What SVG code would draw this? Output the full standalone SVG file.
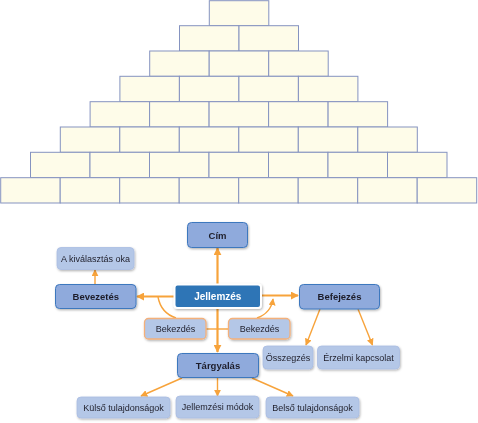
<svg xmlns="http://www.w3.org/2000/svg" width="478" height="423" viewBox="0 0 478 423">
<defs>
<style>
.brick{fill:#FEFCE9;stroke:#8593C0;stroke-width:1}
.l1{fill:#8FAADC;stroke:#3E78BE;stroke-width:1}
.l2{fill:#B4C7E7;stroke:#A9BDE2;stroke-width:0.8}
.bk{fill:#B4C7E7;stroke:#F4B07A;stroke-width:1.3}
.main{fill:#2E75B6;stroke:#FFFFFF;stroke-width:2}
.t{font-family:"Liberation Sans",Arial,sans-serif;font-size:9px;fill:#1E1E2A;text-anchor:middle}
.tb{font-family:"Liberation Sans",Arial,sans-serif;font-size:9.5px;font-weight:bold;fill:#1E1E2A;text-anchor:middle}
.tw{font-family:"Liberation Sans",Arial,sans-serif;font-size:10px;font-weight:bold;fill:#FFFFFF;text-anchor:middle}
.c{fill:none;stroke:#F7A33B;stroke-width:1.4}
.cm{fill:none;stroke:#F7A33B;stroke-width:2.2}
</style>
<marker id="ah" viewBox="0 0 10 10" refX="9" refY="5" markerWidth="7" markerHeight="7" markerUnits="userSpaceOnUse" orient="auto">
<path d="M0,0 L10,5 L0,10 Z" fill="#F7A33B"/>
</marker>
<marker id="ahm" viewBox="0 0 10 10" refX="9" refY="5" markerWidth="8" markerHeight="8" markerUnits="userSpaceOnUse" orient="auto">
<path d="M0,0 L10,5 L0,10 Z" fill="#F7A33B"/>
</marker>
<filter id="sh" x="-20%" y="-30%" width="140%" height="160%">
<feDropShadow dx="0.8" dy="1.2" stdDeviation="1" flood-color="#000" flood-opacity="0.3"/>
</filter>
</defs>

<g id="pyramid">
<rect class="brick" x="209.3" y="0.7" width="59.5" height="25"/>
<rect class="brick" x="179.5" y="25.7" width="59.5" height="25.3"/>
<rect class="brick" x="239" y="25.7" width="59.5" height="25.3"/>
<rect class="brick" x="149.7" y="51" width="59.5" height="25.3"/>
<rect class="brick" x="209.2" y="51" width="59.5" height="25.3"/>
<rect class="brick" x="268.7" y="51" width="59.5" height="25.3"/>
<rect class="brick" x="119.9" y="76.3" width="59.5" height="25.3"/>
<rect class="brick" x="179.4" y="76.3" width="59.5" height="25.3"/>
<rect class="brick" x="238.9" y="76.3" width="59.5" height="25.3"/>
<rect class="brick" x="298.4" y="76.3" width="59.5" height="25.3"/>
<rect class="brick" x="90.1" y="101.7" width="59.5" height="25.3"/>
<rect class="brick" x="149.6" y="101.7" width="59.5" height="25.3"/>
<rect class="brick" x="209.1" y="101.7" width="59.5" height="25.3"/>
<rect class="brick" x="268.6" y="101.7" width="59.5" height="25.3"/>
<rect class="brick" x="328.1" y="101.7" width="59.5" height="25.3"/>
<rect class="brick" x="60.3" y="127" width="59.5" height="25.3"/>
<rect class="brick" x="119.8" y="127" width="59.5" height="25.3"/>
<rect class="brick" x="179.3" y="127" width="59.5" height="25.3"/>
<rect class="brick" x="238.8" y="127" width="59.5" height="25.3"/>
<rect class="brick" x="298.3" y="127" width="59.5" height="25.3"/>
<rect class="brick" x="357.8" y="127" width="59.5" height="25.3"/>
<rect class="brick" x="30.5" y="152.3" width="59.5" height="25.3"/>
<rect class="brick" x="90" y="152.3" width="59.5" height="25.3"/>
<rect class="brick" x="149.5" y="152.3" width="59.5" height="25.3"/>
<rect class="brick" x="209" y="152.3" width="59.5" height="25.3"/>
<rect class="brick" x="268.5" y="152.3" width="59.5" height="25.3"/>
<rect class="brick" x="328" y="152.3" width="59.5" height="25.3"/>
<rect class="brick" x="387.5" y="152.3" width="59.5" height="25.3"/>
<rect class="brick" x="0.7" y="177.7" width="59.5" height="25.3"/>
<rect class="brick" x="60.2" y="177.7" width="59.5" height="25.3"/>
<rect class="brick" x="119.7" y="177.7" width="59.5" height="25.3"/>
<rect class="brick" x="179.2" y="177.7" width="59.5" height="25.3"/>
<rect class="brick" x="238.7" y="177.7" width="59.5" height="25.3"/>
<rect class="brick" x="298.2" y="177.7" width="59.5" height="25.3"/>
<rect class="brick" x="357.7" y="177.7" width="59.5" height="25.3"/>
<rect class="brick" x="417.2" y="177.7" width="59.5" height="25.3"/>
</g>

<g id="connectors">
<line class="cm" x1="217.5" y1="284" x2="217.5" y2="248" marker-end="url(#ahm)"/>
<line class="cm" x1="174" y1="296.5" x2="137" y2="296.5" marker-end="url(#ahm)"/>
<line class="cm" x1="261" y1="295.5" x2="298" y2="295.5" marker-end="url(#ahm)"/>
<line class="cm" x1="217.5" y1="308" x2="217.5" y2="352" marker-end="url(#ahm)"/>
<line class="c" x1="95" y1="284" x2="95" y2="270" marker-end="url(#ah)"/>
<line class="c" x1="320" y1="309" x2="306" y2="345" marker-end="url(#ah)"/>
<line class="c" x1="358" y1="309" x2="372.5" y2="345" marker-end="url(#ah)"/>
<line class="c" x1="182" y1="378" x2="141" y2="396" marker-end="url(#ah)"/>
<line class="c" x1="217.5" y1="378" x2="217.5" y2="396" marker-end="url(#ah)"/>
<line class="c" x1="252" y1="378" x2="293" y2="396" marker-end="url(#ah)"/>
<line class="c" x1="206" y1="329" x2="228" y2="329"/>
<path class="c" d="M158,297 Q161,313 176,318"/>
<path class="c" d="M257,318 Q271,313 273,299" marker-end="url(#ah)"/>
</g>

<g id="cim" filter="url(#sh)">
<rect class="l1" x="187.5" y="222.5" width="60" height="25" rx="4"/>
<text class="tb" x="217.5" y="238.5">Cím</text>
</g>
<g id="jellemzes" filter="url(#sh)">
<rect class="main" x="174.5" y="284.5" width="86.5" height="23.5" rx="3"/>
<text class="tw" x="217.8" y="300">Jellemzés</text>
</g>
<g id="bevezetes" filter="url(#sh)">
<rect class="l1" x="55.5" y="284.5" width="80.5" height="24" rx="4"/>
<text class="tb" x="95.8" y="300">Bevezetés</text>
</g>
<g id="kivalasztas" filter="url(#sh)">
<rect class="l2" x="57" y="247.5" width="77" height="22" rx="4"/>
<text class="t" x="95.5" y="261.5">A kiválasztás oka</text>
</g>
<g id="befejezes" filter="url(#sh)">
<rect class="l1" x="299.5" y="284.5" width="80" height="24.5" rx="4"/>
<text class="tb" x="339.5" y="300">Befejezés</text>
</g>
<g id="osszegzes" filter="url(#sh)">
<rect class="l2" x="263" y="346" width="50" height="23" rx="4"/>
<text class="t" x="288" y="360.8">Összegzés</text>
</g>
<g id="erzelmi" filter="url(#sh)">
<rect class="l2" x="317.5" y="346" width="82" height="23" rx="4"/>
<text class="t" x="358.5" y="360.8">Érzelmi kapcsolat</text>
</g>
<g id="bekezdes-bal" filter="url(#sh)">
<rect class="bk" x="144.5" y="318.5" width="61.5" height="20.5" rx="4"/>
<text class="t" x="175.5" y="332">Bekezdés</text>
</g>
<g id="bekezdes-jobb" filter="url(#sh)">
<rect class="bk" x="228.5" y="318.5" width="61.5" height="20.5" rx="4"/>
<text class="t" x="259.5" y="332">Bekezdés</text>
</g>
<g id="targyalas" filter="url(#sh)">
<rect class="l1" x="177.5" y="353.5" width="81" height="24" rx="4"/>
<text class="tb" x="218" y="369">Tárgyalás</text>
</g>
<g id="kulso" filter="url(#sh)">
<rect class="l2" x="77" y="397" width="93" height="21" rx="4"/>
<text class="t" x="123.5" y="410.8">Külső tulajdonságok</text>
</g>
<g id="modok" filter="url(#sh)">
<rect class="l2" x="176" y="396" width="83" height="22" rx="4"/>
<text class="t" x="217.5" y="410">Jellemzési módok</text>
</g>
<g id="belso" filter="url(#sh)">
<rect class="l2" x="266" y="397" width="93" height="21" rx="4"/>
<text class="t" x="312.5" y="410.8">Belső tulajdonságok</text>
</g>
</svg>
